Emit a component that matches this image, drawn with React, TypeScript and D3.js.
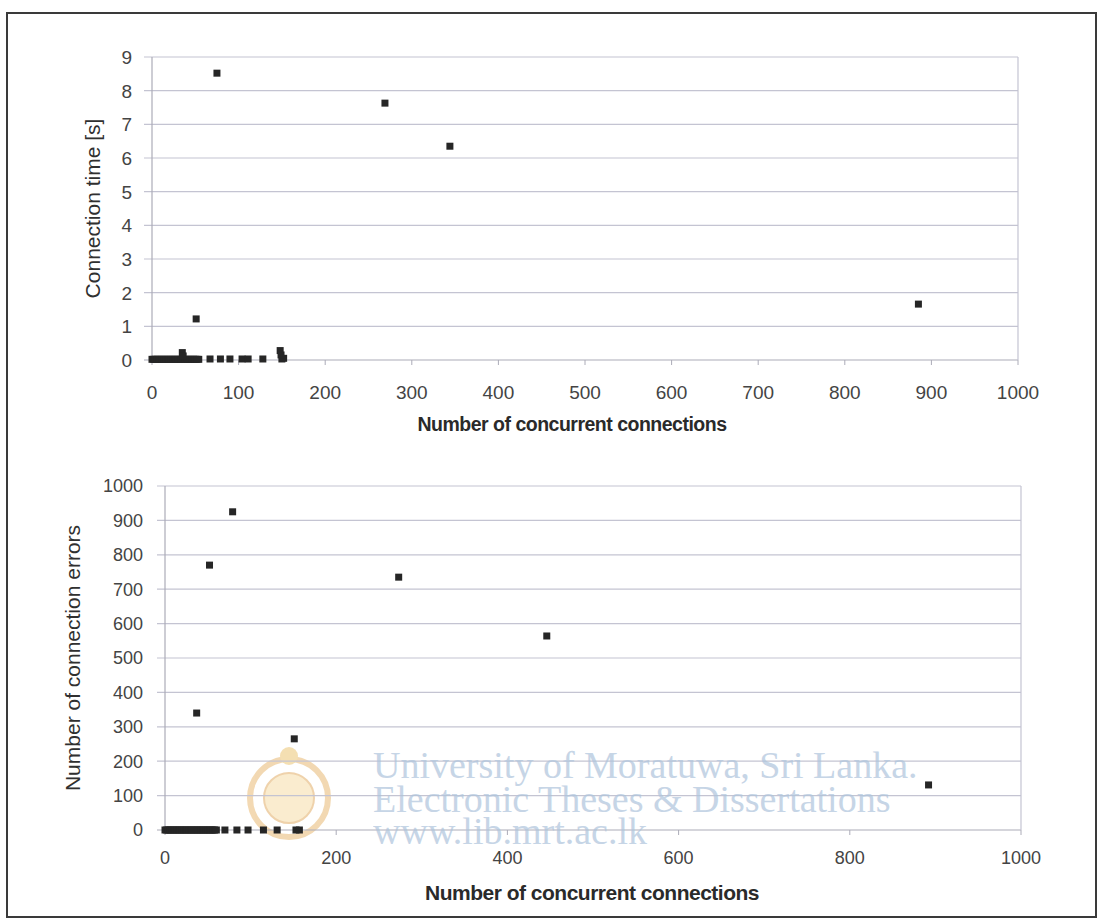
import React from 'react'
import * as d3 from 'd3'

// chart 1: connection time [s] vs concurrent connections
const timeZeroX = [0, 2, 4, 6, 8, 10, 12, 14, 16, 18, 20, 22, 24, 26, 28, 30, 32, 34, 38, 40, 42, 44, 46, 48, 50, 52, 54, 67, 79, 90, 104, 111, 128, 150, 152]
const timeZeroY = [0.02, 0.02, 0.02, 0.02, 0.02, 0.02, 0.02, 0.02, 0.02, 0.02, 0.02, 0.02, 0.02, 0.02, 0.02, 0.02, 0.02, 0.02, 0.02, 0.02, 0.02, 0.02, 0.02, 0.02, 0.02, 0.02, 0.02, 0.03, 0.03, 0.03, 0.03, 0.03, 0.03, 0.03, 0.05]
const timeBumpX = [35, 36, 148, 149]
const timeBumpY = [0.22, 0.12, 0.28, 0.15]
const timeX = [51, 75, 269, 344, 885]
const timeY = [1.22, 8.52, 7.63, 6.35, 1.66]

// chart 2: connection errors vs concurrent connections
const errZeroX = [0, 2, 4, 6, 8, 10, 12, 14, 16, 18, 20, 22, 24, 26, 28, 30, 32, 34, 36, 38, 40, 42, 44, 46, 48, 50, 52, 54, 56, 58, 60, 70, 84, 97, 115, 131, 153, 157]
const errX = [37, 52, 79, 151, 273, 446, 892]
const errY = [340, 770, 925, 265, 735, 564, 131]

const xTicks1 = d3.range(0, 1001, 100)
const yTicks1 = d3.range(0, 10, 1)
const xTicks2 = d3.range(0, 1001, 200)
const yTicks2 = d3.range(0, 1001, 100)

const FONT = '"Liberation Sans", Arial, sans-serif'
const GRID = '#c4c4d2'
const AXIS = '#acacb8'
const DOT = '#262626'

function Scatter({ x, y, xTicks, yTicks, points, yTitle, yTitleX, xTitleX, xTitleY, xTitleSize, tickSize, yLabelGap, xLabelDy }) {
  const [x0, x1] = x.range()
  const [y0, y1] = y.range()
  return (
    <g>
      {yTicks.map((t) => (
        <g key={'gy' + t}>
          <line x1={x0 - 8} x2={x1} y1={y(t)} y2={y(t)} stroke={t === 0 ? AXIS : GRID} strokeWidth={1.2} />
          <text x={x0 - yLabelGap} y={y(t)} dy="0.36em" textAnchor="end" fontSize={tickSize} fill="#444">{t}</text>
        </g>
      ))}
      <line x1={x0} x2={x0} y1={y0} y2={y1} stroke={AXIS} strokeWidth={1.2} />
      <line x1={x1} x2={x1} y1={y0} y2={y1} stroke={GRID} strokeWidth={1.2} />
      {xTicks.map((t) => (
        <g key={'gx' + t}>
          <line x1={x(t)} x2={x(t)} y1={y0} y2={y0 + 5} stroke={AXIS} />
          <text x={x(t)} y={y0 + xLabelDy} textAnchor="middle" fontSize={tickSize} fill="#444">{t}</text>
        </g>
      ))}
      {points.map((p, i) => (
        <rect key={i} x={x(p[0]) - 3.5} y={y(p[1]) - 3.5} width={7} height={7} fill={DOT} />
      ))}
      <text transform={`translate(${yTitleX},${(y0 + y1) / 2}) rotate(-90)`} textAnchor="middle" fontSize={21} fill="#303030">{yTitle}</text>
      <text x={xTitleX} y={xTitleY} textAnchor="middle" fontSize={xTitleSize} fontWeight="bold" fill="#2a2a2a" letterSpacing={-0.5}>Number of concurrent connections</text>
    </g>
  )
}

export default function App() {
  const x1 = d3.scaleLinear().domain([0, 1000]).range([152, 1018])
  const y1 = d3.scaleLinear().domain([0, 9]).range([360, 57])
  const x2 = d3.scaleLinear().domain([0, 1000]).range([165, 1021])
  const y2 = d3.scaleLinear().domain([0, 1000]).range([830, 486])

  const pts1 = [
    ...timeZeroX.map((v, i) => [v, timeZeroY[i]]),
    ...timeBumpX.map((v, i) => [v, timeBumpY[i]]),
    ...timeX.map((v, i) => [v, timeY[i]]),
  ]
  const pts2 = [
    ...errZeroX.map((v) => [v, 0]),
    ...errX.map((v, i) => [v, errY[i]]),
  ]

  return (
    <svg width={1099} height={921} style={{ position: 'absolute', left: 0, top: 0, background: '#fff' }} fontFamily={FONT}>
      <rect x={7} y={13} width={1089} height={904} fill="none" stroke="#3a3a3a" strokeWidth={2} />
      <Scatter x={x1} y={y1} xTicks={xTicks1} yTicks={yTicks1} points={pts1} yTitle="Connection time [s]" yTitleX={100} xTitleX={572} xTitleY={431} xTitleSize={19.5} tickSize={19} yLabelGap={20} xLabelDy={39} />
      {/* faint crest behind the second chart */}
      <g opacity={0.4}>
        <circle cx={289} cy={798} r={39} fill="none" stroke="#e0a040" strokeWidth={6} />
        <circle cx={289} cy={798} r={25} fill="#f3d28a" stroke="#d89030" strokeWidth={2} />
        <circle cx={289} cy={756} r={9} fill="#e6b040" />
      </g>
      <Scatter x={x2} y={y2} xTicks={xTicks2} yTicks={yTicks2} points={pts2} yTitle="Number of connection errors" yTitleX={80} xTitleX={592} xTitleY={900} xTitleSize={21} tickSize={18} yLabelGap={22} xLabelDy={34} />
      <g fontFamily='"Liberation Serif", "DejaVu Serif", serif' fontSize={38} fill="#aec4dc" opacity={0.7}>
        <text x={373} y={778}>University of Moratuwa, Sri Lanka.</text>
        <text x={373} y={812}>Electronic Theses &amp; Dissertations</text>
        <text x={373} y={844}>www.lib.mrt.ac.lk</text>
      </g>
    </svg>
  )
}
